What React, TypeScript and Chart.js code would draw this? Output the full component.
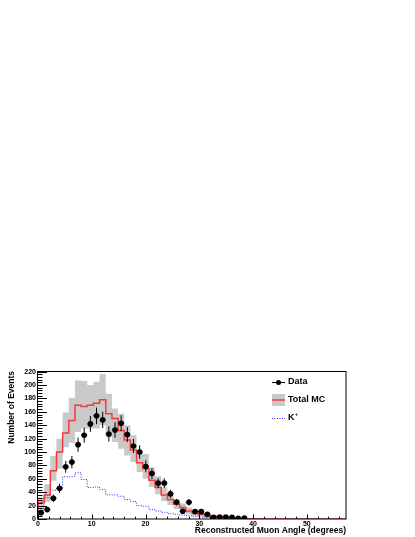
import React, { useEffect, useRef } from "react";
import { Chart, registerables } from "chart.js";

Chart.register(...registerables);

const FONT = '"Liberation Sans", Arial, Helvetica, sans-serif';

// x axis: 0 .. 1 rad (in degrees), 50 bins
const X_MAX = 57.29578;
const N_BINS = 50;
const Y_MAX = 221;

const xTickValues = [0, 10, 20, 30, 40, 50];
const yTickValues = [0, 20, 40, 60, 80, 100, 120, 140, 160, 180, 200, 220];
const X_MINOR_STEP = 2;
const Y_MINOR_STEP = 4;

const dataCounts = [
  9.5, 14, 31, 46, 78, 85, 111, 125, 142, 154,
  148, 127, 133, 143, 126, 109, 100, 78.5, 68, 53.5,
  53.5, 37.5, 25, 11.5, 25, 11, 11, 7, 2.5, 3,
  3, 2.5, 1, 1.5,
];
const dataErrors = [
  3.1, 3.7, 5.6, 6.8, 8.8, 9.2, 10.5, 11.2, 11.9, 12.4,
  12.2, 11.3, 11.5, 12, 11.2, 10.4, 10, 8.9, 8.2, 7.3,
  7.3, 6.1, 5, 3.4, 5, 3.3, 3.3, 2.6, 1.6, 1.7,
  1.7, 1.6, 1, 1.2,
];
const totalMC = [
  10, 24.5, 36, 72, 100, 128.5, 147, 170, 168, 170,
  173, 178, 157, 150, 132, 118, 103, 84, 75, 58,
  47, 36, 29, 22, 17, 12, 9, 7, 5, 4,
  3, 2, 1.5, 1, 0.5, 0.3, 0.2, 0.1, 0, 0,
  0, 0, 0, 0, 0, 0, 0, 0, 0, 0,
];
const mcHigh = [
  17, 32, 52, 94, 120, 159, 181, 207, 206, 200,
  205, 216, 187, 165, 157, 140, 125, 100, 97, 77,
  64, 47, 38, 30, 23, 17, 14, 11, 8, 6,
  4, 3, 2, 1.5, 1, 0.6, 0.4, 0.2, 0, 0,
  0, 0, 0, 0, 0, 0, 0, 0, 0, 0,
];
const mcLow = [
  0, 12, 25, 57, 75, 107, 114, 130, 135, 135,
  135, 140, 122, 115, 105, 95, 85, 70, 60, 48,
  37, 27, 21, 15, 11, 7, 5, 4, 2, 2,
  1.5, 1, 0.8, 0.5, 0.2, 0.1, 0, 0, 0, 0,
  0, 0, 0, 0, 0, 0, 0, 0, 0, 0,
];
const kPlus = [
  5, 16, 32, 43, 47, 63, 63, 69, 59, 47,
  48, 44, 36, 36, 34, 29, 26, 20, 19, 14,
  12, 10, 8, 7, 6, 5, 4, 3, 2, 2,
  1, 1, 0.5, 0.5, 0.3, 0.2, 0.1, 0, 0, 0,
  0, 0, 0, 0, 0, 0, 0, 0, 0, 0,
];

const legendLabels = ["Data", "Total MC", "K"];

const GRAY = "#c9c9c9";
const RED = "#f03c3c";
const BLUE = "#2a2aff";

const binLow = (i: number) => (i * X_MAX) / N_BINS;
const binCenter = (i: number) => ((i + 0.5) * X_MAX) / N_BINS;
const stepPoints = (vals: number[]) => {
  const pts = vals.map((v, i) => ({ x: binLow(i), y: v }));
  pts.push({ x: binLow(vals.length), y: vals[vals.length - 1] });
  return pts;
};

const rootPlugin = {
  id: "rootStyle",
  afterDatasetsDraw(chart: any) {
    const { ctx, chartArea: a, scales } = chart;
    const xs = scales.x;
    const ys = scales.y;
    ctx.save();
    // error bars
    ctx.strokeStyle = "#000";
    ctx.lineWidth = 1;
    dataCounts.forEach((v, i) => {
      const e = dataErrors[i];
      const x0 = xs.getPixelForValue(binLow(i));
      const x1 = xs.getPixelForValue(binLow(i + 1));
      const xc = xs.getPixelForValue(binCenter(i));
      const py = ys.getPixelForValue(v);
      ctx.beginPath();
      ctx.moveTo(x0, py);
      ctx.lineTo(x1, py);
      ctx.moveTo(xc, ys.getPixelForValue(Math.max(0, v - e)));
      ctx.lineTo(xc, ys.getPixelForValue(v + e));
      ctx.stroke();
    });
    // frame
    ctx.lineWidth = 1;
    ctx.strokeStyle = "#000";
    ctx.strokeRect(Math.round(a.left) - 0.5, Math.round(a.top) + 0.5, Math.round(a.width) + 0.5, Math.round(a.height) - 0.5);
    // y ticks (inside)
    ctx.beginPath();
    for (let v = 0; v <= Y_MAX + 1e-6; v += Y_MINOR_STEP) {
      const py = Math.round(ys.getPixelForValue(v)) + 0.5;
      const major = yTickValues.includes(v);
      ctx.moveTo(a.left, py);
      ctx.lineTo(a.left + (major ? 9 : 4.5), py);
    }
    // x ticks (inside)
    for (let v = 0; v <= X_MAX + 1e-6; v += X_MINOR_STEP) {
      const px = Math.round(xs.getPixelForValue(v)) + 0.5;
      const major = xTickValues.includes(v);
      ctx.moveTo(px, a.bottom);
      ctx.lineTo(px, a.bottom - (major ? 4.5 : 2.3));
    }
    ctx.stroke();
    ctx.restore();
  },
  afterDraw(chart: any) {
    const { ctx, chartArea: a } = chart;
    const s0 = a.right - 74;
    const s1 = a.right - 61;
    const tx = a.right - 58;
    const rows = [a.top + 11, a.top + 29, a.top + 47];
    ctx.save();
    ctx.textBaseline = "middle";
    ctx.textAlign = "left";
    ctx.font = `bold 9px ${FONT}`;
    ctx.fillStyle = "#000";
    // Data
    ctx.strokeStyle = "#000";
    ctx.lineWidth = 1;
    ctx.beginPath();
    ctx.moveTo(s0, rows[0] + 0.5);
    ctx.lineTo(s1, rows[0] + 0.5);
    ctx.stroke();
    ctx.beginPath();
    ctx.arc((s0 + s1) / 2, rows[0] + 0.5, 2.5, 0, Math.PI * 2);
    ctx.fill();
    ctx.fillText(legendLabels[0], tx, rows[0]);
    // Total MC
    ctx.fillStyle = GRAY;
    ctx.fillRect(s0, rows[1] - 6, s1 - s0, 12);
    ctx.strokeStyle = RED;
    ctx.lineWidth = 1.5;
    ctx.beginPath();
    ctx.moveTo(s0, rows[1]);
    ctx.lineTo(s1, rows[1]);
    ctx.stroke();
    ctx.fillStyle = "#000";
    ctx.fillText(legendLabels[1], tx, rows[1]);
    // K+
    ctx.strokeStyle = BLUE;
    ctx.lineWidth = 1;
    ctx.setLineDash([1, 1.5]);
    ctx.beginPath();
    ctx.moveTo(s0, rows[2] + 0.5);
    ctx.lineTo(s1, rows[2] + 0.5);
    ctx.stroke();
    ctx.setLineDash([]);
    ctx.fillText(legendLabels[2], tx, rows[2]);
    const kw = ctx.measureText(legendLabels[2]).width;
    ctx.font = `bold 5px ${FONT}`;
    ctx.fillText("+", tx + kw + 0.5, rows[2] - 3);
    ctx.restore();
  },
};

export default function App() {
  const ref = useRef<HTMLCanvasElement>(null);
  useEffect(() => {
    const tickFont = { family: FONT, size: 7, weight: "bold" as const };
    const titleFont = { family: FONT, size: 8.5, weight: "bold" as const };
    const chart = new Chart(ref.current as HTMLCanvasElement, {
      type: "scatter",
      data: {
        datasets: [
          {
            label: "Data",
            data: dataCounts.map((v, i) => ({ x: binCenter(i), y: v })),
            pointRadius: 2.8,
            pointBackgroundColor: "#000",
            pointBorderWidth: 0,
            showLine: false,
            order: 0,
          } as any,
          {
            label: "Total MC",
            data: stepPoints(totalMC),
            showLine: true,
            stepped: "after",
            borderColor: RED,
            borderWidth: 1.5,
            pointRadius: 0,
            fill: false,
            order: 1,
          },
          {
            label: "K+",
            data: stepPoints(kPlus),
            showLine: true,
            stepped: "after",
            borderColor: BLUE,
            borderWidth: 1,
            borderDash: [1, 1.5],
            pointRadius: 0,
            fill: false,
            order: 2,
          },
          {
            label: "MC high",
            data: stepPoints(mcHigh),
            showLine: true,
            stepped: "after",
            borderWidth: 0,
            borderColor: "rgba(0,0,0,0)",
            backgroundColor: GRAY,
            pointRadius: 0,
            fill: "+1",
            order: 3,
          },
          {
            label: "MC low",
            data: stepPoints(mcLow),
            showLine: true,
            stepped: "after",
            borderWidth: 0,
            borderColor: "rgba(0,0,0,0)",
            pointRadius: 0,
            fill: false,
            order: 4,
          },
        ],
      },
      options: {
        responsive: false,
        devicePixelRatio: 1,
        animation: false,
        events: [],
        layout: { padding: { top: 371, right: 69, bottom: 0, left: 0 } },
        plugins: {
          legend: { display: false },
          tooltip: { enabled: false },
        },
        scales: {
          x: {
            type: "linear",
            min: 0,
            max: X_MAX,
            afterBuildTicks: (s: any) => {
              s.ticks = xTickValues.map((value) => ({ value }));
            },
            afterFit: (s: any) => {
              s.height = 18;
            },
            grid: { display: false, drawTicks: false },
            border: { display: false },
            ticks: {
              font: tickFont,
              color: "#000",
              padding: 1,
              maxRotation: 0,
              autoSkip: false,
              includeBounds: false,
            },
            title: {
              display: true,
              text: "Reconstructed Muon Angle (degrees)",
              align: "end",
              color: "#000",
              font: titleFont,
              padding: { top: 0, bottom: 1 },
            },
          },
          y: {
            type: "linear",
            min: 0,
            max: Y_MAX,
            afterBuildTicks: (s: any) => {
              s.ticks = yTickValues.map((value) => ({ value }));
            },
            afterFit: (s: any) => {
              s.width = 38;
            },
            grid: { display: false, drawTicks: false },
            border: { display: false },
            ticks: {
              font: tickFont,
              color: "#000",
              padding: 2,
              autoSkip: false,
              includeBounds: false,
            },
            title: {
              display: true,
              text: "Number of Events",
              align: "end",
              color: "#000",
              font: titleFont,
              padding: { top: 7, bottom: 0 },
            },
          },
        },
      },
      plugins: [rootPlugin],
    } as any);
    return () => chart.destroy();
  }, []);
  return (
    <div style={{ position: "fixed", left: 0, top: 0, width: 415, height: 537, background: "#fff" }}>
      <canvas ref={ref} width={415} height={537} style={{ display: "block", width: 415, height: 537 }} />
    </div>
  );
}
